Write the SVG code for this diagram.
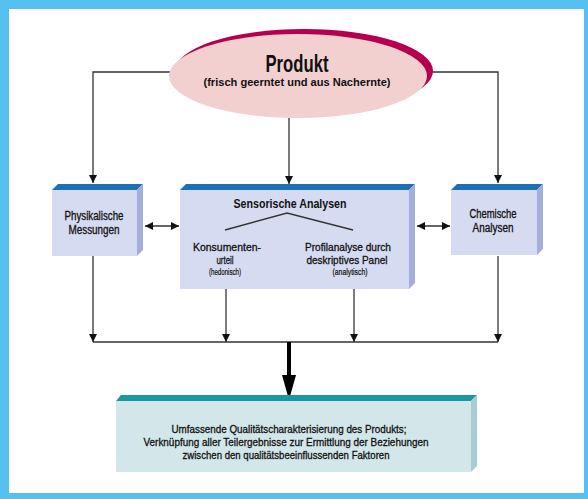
<svg xmlns="http://www.w3.org/2000/svg" width="588" height="499" viewBox="0 0 588 499">
<defs>
<style>
text{font-family:"Liberation Sans Narrow","Liberation Sans",Arial,sans-serif;fill:#111;text-anchor:middle;stroke:#111;stroke-width:0.3}
.t{font-size:12px}
.m{font-size:11px}
.b{font-weight:bold;stroke-width:0}
.s{font-size:8.5px;stroke-width:0.2}
.ln{stroke:#333;stroke-width:1.3;fill:none}
.front{fill:#D5DBF0}.top{fill:#1E6FB5}.side{fill:#A3AEDC}
.front2{fill:#D3E6E9}.top2{fill:#1799A0}.side2{fill:#A7CDD2}
</style>
<marker id="ah" markerWidth="8" markerHeight="8" refX="8" refY="4" orient="auto" markerUnits="userSpaceOnUse"><path d="M0,0 L8,4 L0,8 z" fill="#111"/></marker>
<marker id="ahs" markerWidth="8" markerHeight="8" refX="0" refY="4" orient="auto" markerUnits="userSpaceOnUse"><path d="M8,0 L0,4 L8,8 z" fill="#111"/></marker>
</defs>
<rect x="0" y="0" width="588" height="499" fill="#56C0F0"/>
<rect x="9" y="9" width="575" height="484" fill="#fff"/>

<g id="connectors">
<path class="ln" d="M170,72 H93 V183" marker-end="url(#ah)"/>
<path class="ln" d="M428,72 H498 V183" marker-end="url(#ah)"/>
<path class="ln" d="M289,118 V184" marker-end="url(#ah)"/>
<path class="ln" d="M145,226 H179" marker-start="url(#ahs)" marker-end="url(#ah)"/>
<path class="ln" d="M417,226 H450" marker-start="url(#ahs)" marker-end="url(#ah)"/>
<path class="ln" d="M265,247 H298" marker-start="url(#ahs)" marker-end="url(#ah)"/>
<path class="ln" d="M93,256 V342" marker-end="url(#ah)"/>
<path class="ln" d="M226,289 V342" marker-end="url(#ah)"/>
<path class="ln" d="M354,289 V342" marker-end="url(#ah)"/>
<path class="ln" d="M498,256 V342" marker-end="url(#ah)"/>
<path class="ln" d="M93,342 H498"/>
<path d="M289,342 V376" stroke="#000" stroke-width="4" fill="none"/>
<path d="M282,375 L296,375 L289,400 z" fill="#000"/>
</g>

<g id="produkt">
<ellipse cx="304" cy="71" rx="129" ry="42" fill="#B5004F"/>
<ellipse cx="298" cy="76" rx="129" ry="42" fill="#F2D0D0"/>
<text x="297" y="72" class="b" style="font-size:24px" textLength="63" lengthAdjust="spacingAndGlyphs">Produkt</text>
<text x="297" y="86" class="b" style="font-size:11.5px" textLength="187" lengthAdjust="spacingAndGlyphs">(frisch geerntet und aus Nachernte)</text>
</g>

<g id="physikalisch">
<polygon class="top" points="52,190 58,184 143,184 137,190"/>
<polygon class="side" points="137,190 143,184 143,250 137,256"/>
<rect class="front" x="52" y="190" width="85" height="66"/>
<text x="94" y="220" class="t" textLength="59" lengthAdjust="spacingAndGlyphs">Physikalische</text>
<text x="94" y="234" class="t" textLength="51" lengthAdjust="spacingAndGlyphs">Messungen</text>
</g>

<g id="sensorisch">
<polygon class="top" points="180,190 186,184 415,184 409,190"/>
<polygon class="side" points="409,190 415,184 415,283 409,289"/>
<rect class="front" x="180" y="190" width="229" height="99"/>
<text x="290" y="208" class="t b" textLength="113" lengthAdjust="spacingAndGlyphs">Sensorische Analysen</text>
<path class="ln" d="M225,230 L287,213 L353,230"/>
<text x="227" y="251" class="m" textLength="68" lengthAdjust="spacingAndGlyphs">Konsumenten-</text>
<text x="225" y="264" class="m" textLength="17" lengthAdjust="spacingAndGlyphs">urteil</text>
<text x="225" y="275" class="s" textLength="32" lengthAdjust="spacingAndGlyphs">(hedonisch)</text>
<text x="348" y="251" class="m" textLength="86" lengthAdjust="spacingAndGlyphs">Profilanalyse durch</text>
<text x="347" y="264" class="m" textLength="81" lengthAdjust="spacingAndGlyphs">deskriptives Panel</text>
<text x="350" y="275" class="s" textLength="35" lengthAdjust="spacingAndGlyphs">(analytisch)</text>
</g>

<g id="chemisch">
<polygon class="top" points="451,190 457,184 543,184 537,190"/>
<polygon class="side" points="537,190 543,184 543,249 537,255"/>
<rect class="front" x="451" y="190" width="86" height="65"/>
<text x="493" y="218" class="t" textLength="47" lengthAdjust="spacingAndGlyphs">Chemische</text>
<text x="493" y="232" class="t" textLength="41" lengthAdjust="spacingAndGlyphs">Analysen</text>
</g>

<g id="ergebnis">
<polygon class="top2" points="116,401 121,395 477,395 471,401"/>
<polygon class="side2" points="471,401 477,395 477,466 471,472"/>
<rect class="front2" x="116" y="401" width="355" height="71"/>
<text x="289" y="433" class="m" textLength="235" lengthAdjust="spacingAndGlyphs">Umfassende Qualitätscharakterisierung des Produkts;</text>
<text x="286" y="446" class="m" textLength="285" lengthAdjust="spacingAndGlyphs">Verknüpfung aller Teilergebnisse zur Ermittlung der Beziehungen</text>
<text x="286" y="459" class="m" textLength="207" lengthAdjust="spacingAndGlyphs">zwischen den qualitätsbeeinflussenden Faktoren</text>
</g>
</svg>
